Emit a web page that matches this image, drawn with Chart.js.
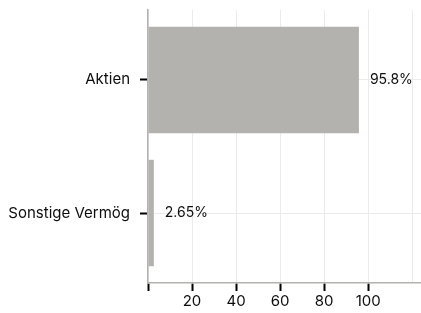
<!DOCTYPE html>
<html>
<head>
<meta charset="utf-8">
<script src="https://cdn.jsdelivr.net/npm/chart.js@4/dist/chart.umd.min.js"></script>
<style>
  html, body { margin: 0; padding: 0; background: #fff; }
  #wrap { width: 421px; height: 313px; }
</style>
</head>
<body>
<div id="wrap"><canvas id="anteile" width="421" height="313"></canvas></div>
<script>
// Daten
var kategorien = ['Aktien', 'Sonstige Vermög'];
var anteile = [95.8, 2.65];
var achseMax = 124;

var grau = '#b3b2ae';

// Punkte für die lineare Kategorienachse (0 = oben)
var punkte = anteile.map(function (v, i) { return { x: v, y: i }; });

// Werte rechts neben die Balken schreiben
var wertLabels = {
    id: 'wertLabels',
    afterDatasetsDraw: function (chart) {
        var ctx = chart.ctx;
        var meta = chart.getDatasetMeta(0);
        ctx.save();
        ctx.font = '14px Inter';
        ctx.fillStyle = '#0d0d0d';
        ctx.textAlign = 'left';
        ctx.textBaseline = 'middle';
        meta.data.forEach(function (bar, i) {
            ctx.fillText(anteile[i] + '%', bar.x + 11, bar.y);
        });
        ctx.restore();
    }
};

var ctx1 = document.getElementById('anteile').getContext('2d');
var chart1 = new Chart(ctx1, {
    type: 'bar',
    data: {
        datasets: [{
            data: punkte,
            backgroundColor: grau,
            borderWidth: 0,
            barPercentage: 0.8,
            categoryPercentage: 1
        }]
    },
    options: {
        indexAxis: 'y',
        responsive: false,
        animation: false,
        layout: { padding: { top: 10, right: 0, left: 0, bottom: 0 } },
        plugins: {
            legend: { display: false },
            tooltip: { enabled: false }
        },
        scales: {
            x: {
                min: 0,
                max: achseMax,
                border: { color: grau, width: 1.5 },
                grid: {
                    color: '#ebebeb',
                    lineWidth: 1,
                    tickLength: 8,
                    tickWidth: 2,
                    tickColor: function (c) {
                        return c.tick && c.tick.value === 120 ? 'rgba(0,0,0,0)' : '#000';
                    }
                },
                ticks: {
                    stepSize: 20,
                    includeBounds: false,
                    padding: 1,
                    color: '#0d0d0d',
                    font: { family: 'Inter', size: 15 },
                    maxRotation: 0,
                    callback: function (v) {
                        return (v === 0 || v === 120) ? '' : v;
                    }
                },
                afterFit: function (s) { s.height = 30; }
            },
            y: {
                type: 'linear',
                reverse: true,
                offset: false,
                min: -0.526,
                max: 1.526,
                border: { color: grau, width: 1.5 },
                grid: {
                    offset: false,
                    color: '#ebebeb',
                    lineWidth: 1,
                    tickLength: 8,
                    tickWidth: 2,
                    tickColor: '#000'
                },
                ticks: {
                    padding: 10,
                    color: '#0d0d0d',
                    font: { family: 'Inter', size: 15 },
                    callback: function (v) { return kategorien[v]; }
                },
                afterBuildTicks: function (s) {
                    s.ticks = kategorien.map(function (k, i) { return { value: i }; });
                },
                afterFit: function (s) {
                    s.width = 148;
                    s.paddingTop = 0;
                    s.paddingBottom = 0;
                }
            }
        }
    },
    plugins: [wertLabels]
});
</script>
</body>
</html>
